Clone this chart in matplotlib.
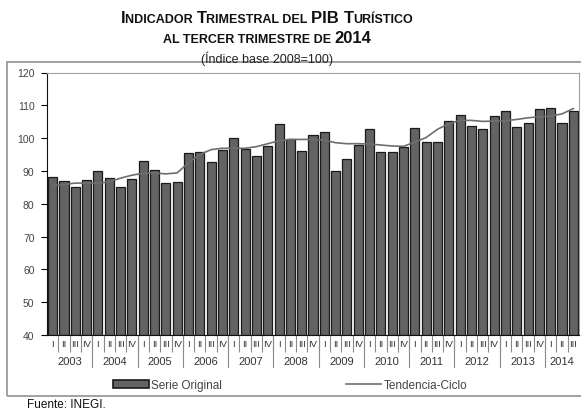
import matplotlib
matplotlib.use("Agg")
import matplotlib.pyplot as plt
from matplotlib.patches import Rectangle, Patch
from matplotlib.lines import Line2D

plt.rcParams["font.family"] = ["Liberation Sans", "DejaVu Sans"]

# datos (indice base 2008=100)
anios = ["2003", "2004", "2005", "2006", "2007", "2008", "2009",
         "2010", "2011", "2012", "2013", "2014"]
trimestres = ["I", "II", "III", "IV"]

serie_original = [
    88.1, 86.8, 85.0, 87.2,
    90.0, 88.0, 85.2, 87.6,
    93.0, 90.3, 86.4, 86.7,
    95.4, 95.9, 92.6, 96.3,
    100.0, 96.6, 94.5, 97.6,
    104.3, 99.8, 96.1, 101.0,
    102.0, 90.0, 93.5, 98.0,
    102.8, 95.9, 95.7, 97.4,
    103.0, 98.8, 98.8, 105.3,
    107.1, 103.6, 102.9, 106.8,
    108.2, 103.4, 104.6, 108.8,
    109.3, 104.6, 108.2,
]
tendencia_ciclo = [
    85.5, 85.9, 86.3, 86.3,
    86.3, 86.7, 87.8, 88.7,
    89.3, 89.4, 89.1, 89.4,
    92.5, 95.0, 96.5, 96.9,
    96.9, 96.9, 97.4, 98.3,
    99.2, 99.6, 99.6, 99.6,
    99.4, 98.6, 98.3, 98.3,
    98.2, 97.9, 97.6, 97.5,
    98.8, 100.2, 102.7, 104.4,
    105.4, 105.4, 105.1, 105.2,
    105.3, 105.7, 106.2, 106.5,
    106.7, 107.4, 109.0,
]

n = len(serie_original)
x = list(range(n))
etiquetas = [trimestres[i % 4] for i in x]

fig = plt.figure(figsize=(5.81, 4.10), dpi=100)

# marco exterior
fig.patches.append(Rectangle((7 / 581, 1 - 397 / 410), 1.0, (397 - 63.3) / 410,
                             transform=fig.transFigure, fill=False,
                             edgecolor="#9a9a9a", linewidth=1.3))

ax = fig.add_axes([47 / 581, 1 - 336 / 410, 532 / 581, 262.5 / 410])

ax.bar(x, [v - 40 for v in serie_original], bottom=40, width=0.8,
       color="#636363", edgecolor="#1a1a1a", linewidth=0.9, zorder=2)
ax.plot(x, tendencia_ciclo, color="#6e6e6e", linewidth=1.2, zorder=3)

ax.set_xlim(-0.5, n - 0.5)
ax.set_ylim(40, 120)
ax.set_yticks(range(40, 121, 10))
ax.tick_params(axis="y", labelsize=7.5, labelcolor="#444444", length=4,
               width=0.8, direction="out", pad=5)

# etiquetas de trimestre
ax.set_xticks(x)
ax.set_xticklabels(etiquetas, fontsize=6.8, color="#333333")
ax.tick_params(axis="x", length=0, pad=3)
ax.set_xticks([i - 0.5 for i in range(1, n)], minor=True)
ax.tick_params(axis="x", which="minor", length=12, width=0.8,
               color="#8a8a8a", direction="out")

# separadores y etiquetas de anio
tr = ax.get_xaxis_transform()
for k in range(1, len(anios)):
    ax.plot([4 * k - 0.5, 4 * k - 0.5], [0, -0.122], transform=tr,
            color="#8a8a8a", linewidth=0.8, clip_on=False)
for k, a in enumerate(anios):
    fin = min(4 * k + 4, n)
    ax.text((4 * k + fin - 1) / 2, -0.099, a, transform=tr, ha="center",
            va="center", fontsize=8, color="#333333")

for s in ["top", "right"]:
    ax.spines[s].set_color("#a0a0a0")
ax.spines["left"].set_color("#111111")
ax.spines["bottom"].set_color("#111111")

# leyenda
handles = [Patch(facecolor="#636363", edgecolor="#1a1a1a", linewidth=1.2),
           Line2D([0], [0], color="#6e6e6e", linewidth=1.2)]
fig.legend(handles, ["Serie Original", "Tendencia-Ciclo"], ncol=2,
           loc="center", bbox_to_anchor=(0.5, 1 - 386 / 410), frameon=False,
           fontsize=8.5, handlelength=3.0, handleheight=0.7, handletextpad=0.2,
           columnspacing=10.5, labelcolor="#444444")

# titulo en versalitas
CENTRO = 267 / 581

def versalitas(y, partes):
    r = fig.canvas.get_renderer()
    textos = []
    pos = 0.0
    for s, tam in partes:
        t = fig.text(0, y, s, fontsize=tam, fontweight="bold", va="baseline",
                     ha="left", color="#111111")
        textos.append((t, pos))
        pos += t.get_window_extent(r).width
    inicio = fig.bbox.width * CENTRO - pos / 2
    for t, off in textos:
        t.set_x((inicio + off) / fig.bbox.width)

G, P = 12, 9
versalitas(1 - 22.7 / 410, [("I", G), ("NDICADOR ", P), ("T", G),
                            ("RIMESTRAL DEL ", P), ("PIB ", G), ("T", G),
                            ("URÍSTICO", P)])
versalitas(1 - 43 / 410, [("AL TERCER TRIMESTRE DE ", P), ("2014", G)])
fig.text(CENTRO, 1 - 63 / 410, "(Índice base 2008=100)", ha="center",
         va="baseline", fontsize=9, color="#222222")

fig.text(27 / 581, 1 - 405 / 410, "Fuente: INEGI.", ha="left", va="center",
         fontsize=8.5, color="#111111")

fig.savefig("out.png", dpi=100)
